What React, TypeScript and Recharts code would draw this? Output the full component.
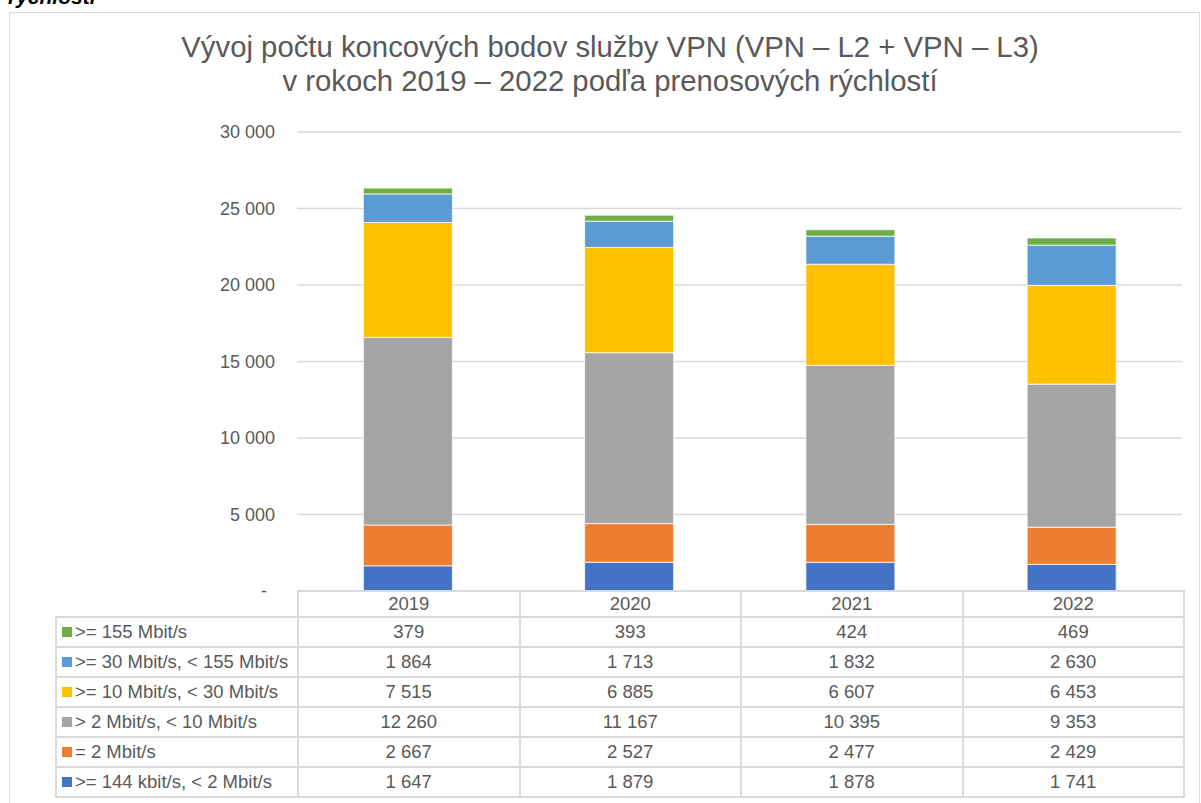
import React from "react";
import { BarChart, Bar, XAxis, YAxis, CartesianGrid } from "recharts";

const years = ["2019", "2020", "2021", "2022"];

// počty koncových bodov podľa rýchlosti
const kbit144 = [1647, 1879, 1878, 1741];
const mbit2 = [2667, 2527, 2477, 2429];
const mbit2to10 = [12260, 11167, 10395, 9353];
const mbit10to30 = [7515, 6885, 6607, 6453];
const mbit30to155 = [1864, 1713, 1832, 2630];
const mbit155 = [379, 393, 424, 469];

const yTicks = [0, 5000, 10000, 15000, 20000, 25000, 30000];

// poradie odspodu nahor
const series = [
  { key: "kbit144", name: ">= 144 kbit/s, < 2 Mbit/s", values: kbit144 },
  { key: "mbit2", name: "= 2 Mbit/s", values: mbit2 },
  { key: "mbit2to10", name: "> 2 Mbit/s, < 10 Mbit/s", values: mbit2to10 },
  { key: "mbit10to30", name: ">= 10 Mbit/s, < 30 Mbit/s", values: mbit10to30 },
  { key: "mbit30to155", name: ">= 30 Mbit/s, < 155 Mbit/s", values: mbit30to155 },
  { key: "mbit155", name: ">= 155 Mbit/s", values: mbit155 },
];

const colors: Record<string, string> = {
  kbit144: "#4472C4",
  mbit2: "#ED7D31",
  mbit2to10: "#A5A5A5",
  mbit10to30: "#FFC000",
  mbit30to155: "#5B9BD5",
  mbit155: "#70AD47",
};

const chartData = years.map((year, i) => {
  const row: Record<string, string | number> = { year };
  series.forEach((s) => {
    row[s.key] = s.values[i];
  });
  return row;
});

const fmt = (v: number) => String(v).replace(/\B(?=(\d{3})+(?!\d))/g, "\u00a0");

const FONT = '"Liberation Sans", Arial, sans-serif';
const TEXT = "#595959";
const LINE = "#d9d9d9";

const renderYTick = (props: any) => {
  const { x, y, payload } = props;
  const zero = payload.value === 0;
  return (
    <text
      x={zero ? x - 8 : x}
      y={y}
      dy="0.35em"
      textAnchor="end"
      fill={TEXT}
      fontSize={18}
      fontFamily={FONT}
    >
      {zero ? "-" : fmt(payload.value)}
    </text>
  );
};

const cell: React.CSSProperties = {
  border: `2px solid ${LINE}`,
  textAlign: "center",
  padding: 0,
  color: TEXT,
  fontSize: 18.5,
  whiteSpace: "nowrap",
  overflow: "hidden",
};

export default function App() {
  const tableRows = [...series].reverse();
  return (
    <div
      style={{
        position: "absolute",
        left: 0,
        top: 0,
        width: 1201,
        height: 803,
        overflow: "hidden",
        background: "#fff",
        fontFamily: FONT,
      }}
    >
      <div
        style={{
          position: "absolute",
          left: 8,
          top: -15,
          fontSize: 21,
          fontStyle: "italic",
          fontWeight: "bold",
          color: "#000",
          whiteSpace: "nowrap",
        }}
      >
        rýchlostí
      </div>
      <div
        style={{
          position: "absolute",
          left: 9,
          top: 12,
          width: 1191,
          height: 800,
          border: `1px solid ${LINE}`,
          boxSizing: "border-box",
        }}
      />
      <div
        style={{
          position: "absolute",
          left: 610,
          top: 30,
          transform: "translateX(-50%)",
          fontSize: 29.3,
          lineHeight: "34px",
          color: TEXT,
          textAlign: "center",
          whiteSpace: "nowrap",
        }}
      >
        Vývoj počtu koncových bodov služby VPN (VPN – L2 + VPN – L3)
        <br />v rokoch 2019 – 2022 podľa prenosových rýchlostí
      </div>
      <div style={{ position: "absolute", left: 0, top: 0 }}>
        <BarChart
          width={1201}
          height={803}
          data={chartData}
          margin={{ top: 132, right: 19, bottom: 212, left: 217 }}
          barCategoryGap="30%"
        >
          <CartesianGrid vertical={false} stroke={LINE} strokeWidth={1.5} />
          <XAxis dataKey="year" hide />
          <YAxis
            width={80}
            domain={[0, 30000]}
            ticks={yTicks}
            axisLine={false}
            tickLine={false}
            tickSize={0}
            tickMargin={22}
            tick={renderYTick}
            interval={0}
          />
          {series.map((s) => (
            <Bar
              key={s.key}
              dataKey={s.key}
              name={s.name}
              stackId="a"
              fill={colors[s.key]}
              stroke="#fff"
              strokeWidth={0.75}
              isAnimationActive={false}
            />
          ))}
        </BarChart>
      </div>
      <table
        style={{
          position: "absolute",
          left: 55,
          top: 590,
          width: 1128,
          borderCollapse: "collapse",
          tableLayout: "fixed",
          fontFamily: FONT,
        }}
      >
        <colgroup>
          <col style={{ width: 242 }} />
          {years.map((y) => (
            <col key={y} style={{ width: 221.5 }} />
          ))}
        </colgroup>
        <tbody>
          <tr style={{ height: 26 }}>
            <td style={{ ...cell, border: "none", borderBottom: `2px solid ${LINE}` }} />
            {years.map((y) => (
              <td key={y} style={cell}>
                {y}
              </td>
            ))}
          </tr>
          {tableRows.map((s) => (
            <tr key={s.key} style={{ height: 30 }}>
              <td style={{ ...cell, textAlign: "left", paddingLeft: 5 }}>
                <span
                  style={{
                    display: "inline-block",
                    width: 10,
                    height: 10,
                    background: colors[s.key],
                    marginRight: 3,
                    verticalAlign: "1px",
                  }}
                />
                {s.name}
              </td>
              {s.values.map((v, i) => (
                <td key={i} style={cell}>
                  {fmt(v)}
                </td>
              ))}
            </tr>
          ))}
        </tbody>
      </table>
    </div>
  );
}
